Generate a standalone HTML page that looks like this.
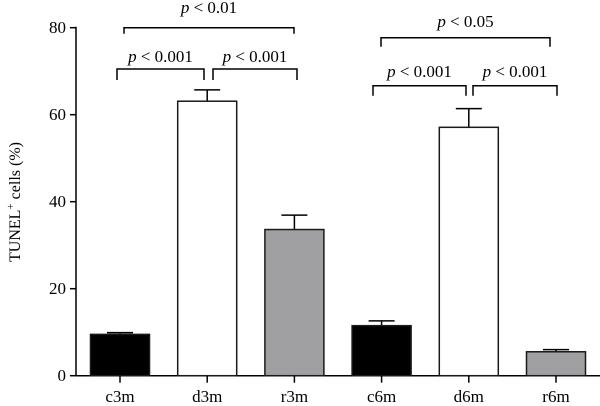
<!DOCTYPE html>
<html><head><meta charset="utf-8"><style>
html,body{margin:0;padding:0;background:#fff;}
svg{display:block;font-family:"Liberation Serif",serif;}
</style></head><body>
<svg id="chart" width="600" height="406" viewBox="0 0 600 406"></svg>
<script>
const categories=["c3m","d3m","r3m","c6m","d6m","r6m"];
const values=[9.5,63.1,33.6,11.5,57.1,5.5];
const errors=[0.4,2.6,3.3,1.1,4.3,0.5];
const fills=["#000","#fff","#a0a0a2","#000","#fff","#a0a0a2"];
const yTicks=[0,20,40,60,80];
const NS="http://www.w3.org/2000/svg";
const svg=document.getElementById('chart');
const y0=375.7,yTop=27.7,yMax=80;
function y(v){return y0-(y0-yTop)*v/yMax;}
function x(i){return 120+i*87.2;}
const bw=59;
function mk(tag,attrs,parent){const e=document.createElementNS(NS,tag);for(const k in attrs)e.setAttribute(k,attrs[k]);(parent||svg).appendChild(e);return e;}
// axes
let ax=mk('line',{x1:76,y1:y0,x2:600,y2:y0,stroke:'#000','stroke-width':1.5});


let ay=mk('line',{x1:76,y1:yTop-1,x2:76,y2:y0,stroke:'#000','stroke-width':1.5});


yTicks.forEach(t=>{
  const l=mk('line',{x1:70,x2:76,y1:y(t),y2:y(t),stroke:'#000','stroke-width':1.5});
  
  
  const tx=mk('text',{x:66,y:y(t)+5.5,'text-anchor':'end','font-size':17});
  tx.textContent=t;
  
  
});
const yt=mk('text',{transform:'translate(20,202) rotate(-90)','text-anchor':'middle','font-size':16});
yt.innerHTML='TUNEL<tspan dy="-6" font-size="11">+</tspan><tspan dy="6"> cells (%)</tspan>';


categories.forEach((c,i)=>{
  const cx=x(i);
  const eb=mk('path',{d:`M${cx},${y(values[i])}V${y(values[i]+errors[i])}M${cx-13},${y(values[i]+errors[i])}H${cx+13}`,stroke:'#000','stroke-width':1.5,fill:'none'});
  
  
  const r=mk('rect',{x:cx-bw/2,y:y(values[i]),width:bw,height:y0-y(values[i]),fill:fills[i],stroke:'#1a1a1a','stroke-width':1.5});
  
  
  const tk=mk('line',{x1:cx,x2:cx,y1:y0,y2:y0+7,stroke:'#000','stroke-width':1.5});
  
  
  const lb=mk('text',{x:cx,y:402,'text-anchor':'middle','font-size':17});
  lb.textContent=c;
  
  
});
function bracket(x1,x2,yy,leg,label,ty,name){
  const p=mk('path',{d:`M${x1},${yy+leg}V${yy}H${x2}V${yy+leg}`,stroke:'#000','stroke-width':1.5,fill:'none'});
  
  
  const t=mk('text',{x:(x1+x2)/2,y:ty,'text-anchor':'middle','font-size':17});
  t.innerHTML='<tspan font-style="italic">p</tspan> &lt; '+label;
  
  
}
bracket(124,294,27.7,6,'0.01',13,'bracket-c3m-r3m');
bracket(117,204,69,11,'0.001',62,'bracket-c3m-d3m');
bracket(213,297,69,11,'0.001',62,'bracket-d3m-r3m');
bracket(381,550,37.7,9,'0.05',27,'bracket-c6m-r6m');
bracket(373,466,85.7,10,'0.001',77,'bracket-c6m-d6m');
bracket(473,557,85.7,10,'0.001',77,'bracket-d6m-r6m');
</script>
</body></html>
